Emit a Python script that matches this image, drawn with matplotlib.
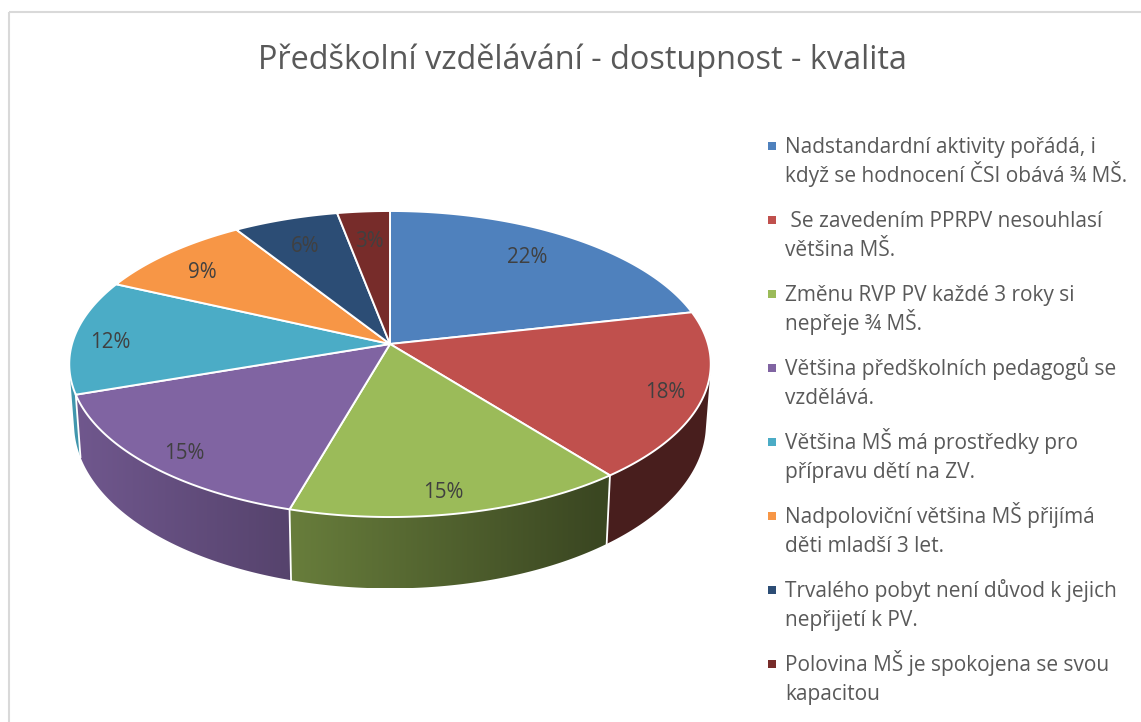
import numpy as np
import matplotlib
matplotlib.use("Agg")
import matplotlib.pyplot as plt
from matplotlib.patches import Polygon, Rectangle

plt.rcParams['font.family'] = ['Open Sans', 'DejaVu Sans']

title = "Předškolní vzdělávání - dostupnost - kvalita"
categories = [
    "Nadstandardní aktivity pořádá, i\nkdyž se hodnocení ČSI obává ¾ MŠ.",
    " Se zavedením PPRPV nesouhlasí\nvětšina MŠ.",
    "Změnu RVP PV každé 3 roky si\nnepřeje ¾ MŠ.",
    "Většina předškolních pedagogů se\nvzdělává.",
    "Většina MŠ má prostředky pro\npřípravu dětí na ZV.",
    "Nadpoloviční většina MŠ přijímá\nděti mladší 3 let.",
    "Trvalého pobyt není důvod k jejich\nnepřijetí k PV.",
    "Polovina MŠ je spokojena se svou\nkapacitou",
]
values = [21.5, 17.8, 15.1, 15.3, 12.1, 9.1, 6.0, 3.0]
colors = ['#4f81bd', '#c0504d', '#9bbb59', '#8064a2', '#4bacc6', '#f79646', '#2c4d75', '#772c2a']
# where each percent label sits: share of the radius, then a nudge in pixels
label_radius = [0.74, 0.885, 0.88, 0.86, 0.875, 0.84, 0.80, 0.77]
label_dx = [0, -1, -8, 0, -3, 0, 1, 0]
label_dy = [-6, 2, 2, 8, 5, 6, 4, 2]

# projection of the tilted disc, in image pixels
cx, cy = 390, 344
rx, ry, persp = 318, 150.4, 0.1307


def top_xy(theta, r=1.0):
    # theta runs clockwise from 12 o'clock
    X = r * np.sin(theta)
    Y = r * np.cos(theta)
    w = 1 + persp * Y
    return cx + rx * X / w, cy - ry * Y / w


def bottom_xy(theta):
    x, y = top_xy(theta)
    depth = 58 + 16 * -np.cos(theta)
    return cx + 0.985 * (x - cx), cy + depth + 0.985 * (y - cy)


def faces_front(theta):
    # wall is visible where the rim runs the right way round the drop to the bottom edge
    eps = 1e-4
    x0, y0 = top_xy(theta - eps)
    x1, y1 = top_xy(theta + eps)
    xa, ya = top_xy(theta)
    xb, yb = bottom_xy(theta)
    return (x1 - x0) * (yb - ya) - (y1 - y0) * (xb - xa) < 0


def shade(x):
    # side wall gets darker going to the right
    return np.clip(0.87 - (x - 80) * 0.00095, 0.38, 1)


fig = plt.figure(figsize=(11.41, 7.22), dpi=100)
ax = fig.add_axes([0, 0, 1, 1])
ax.axis('off')

ax.add_patch(Rectangle((9, 12), 1140, 720, fill=False, ec='#d9d9d9', lw=1.5))

edges = np.cumsum([0] + values) / sum(values) * 2 * np.pi

# side walls: a horizontal gradient clipped to the outline of each wall
for i, c in enumerate(colors):
    t = np.linspace(edges[i], edges[i + 1], 300)
    t = t[faces_front(t)]
    if len(t) < 2:
        continue
    xa, ya = top_xy(t)
    xb, yb = bottom_xy(t)
    xs = np.r_[xa, xb[::-1]]
    ys = np.r_[ya, yb[::-1]]
    outline = Polygon(np.column_stack((xs, ys)), closed=True, transform=ax.transData)
    grad_x = np.linspace(xs.min(), xs.max(), 200)
    rgb = np.array(matplotlib.colors.to_rgb(c))[None, None, :] * shade(grad_x)[None, :, None]
    im = ax.imshow(rgb, extent=(xs.min(), xs.max(), ys.max(), ys.min()), aspect='auto',
                   interpolation='bilinear', zorder=2)
    im.set_clip_path(outline)

# white seams between the walls
for a in edges[1:-1]:
    if faces_front(a):
        xa, ya = top_xy(a)
        xb, yb = bottom_xy(a)
        ax.plot([xa, xb], [ya, yb], color='white', lw=1.3, zorder=3)

# top face
for i, c in enumerate(colors):
    t = np.linspace(edges[i], edges[i + 1], 120)
    x, y = top_xy(t)
    pts = np.column_stack((np.r_[cx, x], np.r_[cy, y]))
    ax.add_patch(Polygon(pts, closed=True, fc=c, ec='white', lw=1.4, joinstyle='round', zorder=4))

# percent labels
for i, v in enumerate(values):
    mid = (edges[i] + edges[i + 1]) / 2
    x, y = top_xy(mid, label_radius[i])
    ax.text(x + label_dx[i], y + label_dy[i], f"{v:.0f}%", ha='center', va='center',
            fontsize=14.8, color='#404040', zorder=5)

ax.text(582, 60, title, ha='center', va='center', fontsize=23.4, color='#595959')

# legend, lines placed one by one to keep the spacing even
for i, (name, c) in enumerate(zip(categories, colors)):
    base = 153 + i * 74
    ax.add_patch(Rectangle((768, base - 11), 8, 8, fc=c, ec='none'))
    for j, line in enumerate(name.split("\n")):
        ax.text(785, base + j * 29, line, ha='left', va='baseline', fontsize=15, color='#595959')

ax.set_xlim(0, 1141)
ax.set_ylim(722, 0)

fig.savefig('out.png', dpi=100)
